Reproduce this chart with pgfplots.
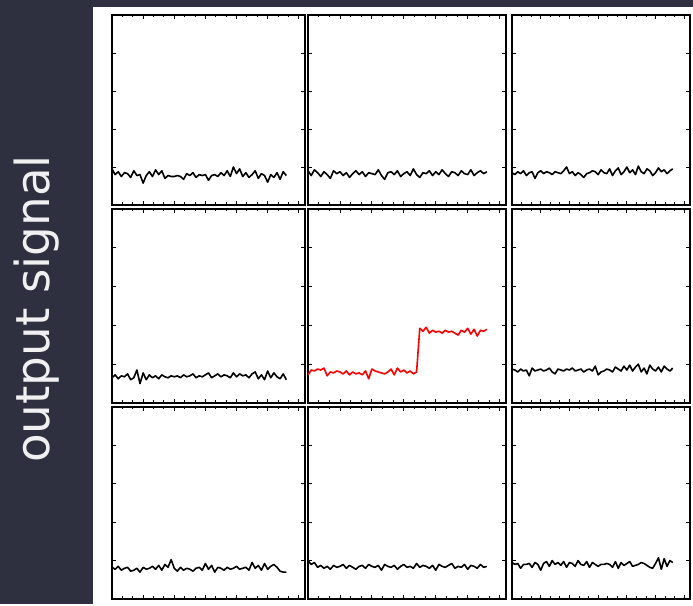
\documentclass[border=0pt]{standalone}
\usepackage{fontspec}
\usepackage{pgfplots}
\usepackage{pgfplotstable}
\pgfplotsset{compat=1.18}
\newfontfamily\dejavu{DejaVu Sans}
\definecolor{bgcol}{RGB}{47,48,63}
\definecolor{sigred}{RGB}{255,0,0}
\definecolor{txt}{RGB}{240,240,242}

\pgfplotstableread{
x a b c d e f g h i
0 38 36 34 26 29 35 33 40 38
10 32 31 32 29 34 34 31 36 36
20 35 37 35 25 33 32 34 38 37
30 30 34 33 28 35 35 30 33 32
40 34 30 36 27 34 33 32 35 36
50 33 35 31 30 36 34 33 32 36
60 29 32 34 24 28 28 29 34 37
70 36 28 35 26 32 36 30 31 33
80 31 36 28 34 31 33 32 35 38
90 32 33 34 20 33 34 28 33 36
100 23 35 36 31 32 35 33 34 30
110 31 31 33 24 30 33 31 36 37
120 35 34 35 29 33 34 32 32 39
130 30 29 34 26 29 36 34 35 34
140 37 33 32 28 32 32 31 33 40
150 32 36 35 25 30 30 35 31 36
160 36 32 34 29 31 35 30 34 38
170 28 35 33 27 29 34 36 35 35
180 31 30 36 26 33 33 33 32 39
190 30 34 40 28 25 35 41 36 33
200 30 33 33 27 35 34 32 34 38
210 31 32 35 28 33 36 29 33 37
220 30 37 31 26 32 33 33 35 34
230 27 31 34 29 31 34 30 30 40
240 33 27 32 27 30 35 32 36 36
250 31 34 29 28 32 32 31 34 35
260 34 35 33 30 35 34 29 33 39
270 29 32 34 26 29 35 32 35 33
280 32 36 36 28 36 33 33 31 38
290 31 30 35 27 32 38 30 34 36
300 32 33 32 29 34 29 37 36 34
310 26 35 37 31 31 32 31 33 36
320 31 31 34 26 33 33 35 34 36
330 32 38 33 28 30 35 28 32 37
340 30 32 38 30 32 34 33 37 36
350 34 29 31 27 77 32 32 33 33
360 31 34 36 29 74 37 30 35 39
370 36 33 39 28 78 35 33 34 32
380 30 36 32 26 72 33 31 32 38
390 40 31 35 31 75 38 32 35 35
400 33 35 40 27 73 34 34 30 37
410 38 32 34 30 74 39 31 36 39
420 30 37 37 28 72 33 32 34 34
430 34 33 32 29 75 37 33 33 35
440 29 30 41 26 73 40 30 35 36
450 32 35 35 30 74 32 38 37 38
460 36 34 33 32 72 36 32 32 37
470 28 31 38 25 70 30 35 34 35
480 33 36 36 29 75 39 30 33 33
490 31 33 31 24 73 35 37 36 32
500 24 32 34 33 77 33 31 31 37
510 32 37 39 26 71 37 34 35 43
520 29 31 35 31 76 32 36 34 31
530 34 34 37 27 69 38 33 32 42
540 27 36 33 25 75 35 29 36 34
550 35 33 36 30 74 33 28 33 40
560 31 35 38 24 76 36 28 34 38
}\signals

\pgfplotsset{
  panel/.style={
    scale only axis,
    anchor=south west,
    xmin=0, xmax=620, ymin=0, ymax=200,
    xtick={0,100,...,600},
    ytick={40,80,120,160},
    minor x tick num=2,
    xticklabels={}, yticklabels={},
    tick align=inside,
    major tick length=4bp,
    minor tick length=2.5bp,
    axis line style={line width=1.7bp, black},
    tick style={line width=0.8bp, black},
    axis background/.style={fill=white},
  },
  sig/.style={black, line width=1.6bp, no markers, line join=round},
}

\begin{document}
\begin{tikzpicture}[x=1bp,y=1bp]
\fill[bgcol] (0,0) rectangle (693,604);
\fill[white] (93,0) rectangle (693,597);
\node[rotate=90, text=txt, inner sep=0pt, font=\dejavu\fontsize{47}{50}\selectfont] at (37,295) {output signal};

% row 1
\begin{axis}[panel, at={(112bp,399bp)}, width=193bp, height=190bp]
\addplot[sig] table[x=x,y=a] {\signals};
\end{axis}
\begin{axis}[panel, at={(308bp,399bp)}, width=198bp, height=190bp]
\addplot[sig] table[x=x,y=b] {\signals};
\end{axis}
\begin{axis}[panel, at={(512bp,399bp)}, width=178bp, height=190bp]
\addplot[sig] table[x=x,y=c] {\signals};
\end{axis}

% row 2
\begin{axis}[panel, at={(112bp,201bp)}, width=193bp, height=194bp]
\addplot[sig] table[x=x,y=d] {\signals};
\end{axis}
\begin{axis}[panel, at={(308bp,201bp)}, width=198bp, height=194bp]
\addplot[sig, sigred] table[x=x,y=e] {\signals};
\end{axis}
\begin{axis}[panel, at={(512bp,201bp)}, width=178bp, height=194bp]
\addplot[sig] table[x=x,y=f] {\signals};
\end{axis}

% row 3
\begin{axis}[panel, at={(112bp,5bp)}, width=193bp, height=192bp]
\addplot[sig] table[x=x,y=g] {\signals};
\end{axis}
\begin{axis}[panel, at={(308bp,5bp)}, width=198bp, height=192bp]
\addplot[sig] table[x=x,y=h] {\signals};
\end{axis}
\begin{axis}[panel, at={(512bp,5bp)}, width=178bp, height=192bp]
\addplot[sig] table[x=x,y=i] {\signals};
\end{axis}
\end{tikzpicture}
\end{document}
